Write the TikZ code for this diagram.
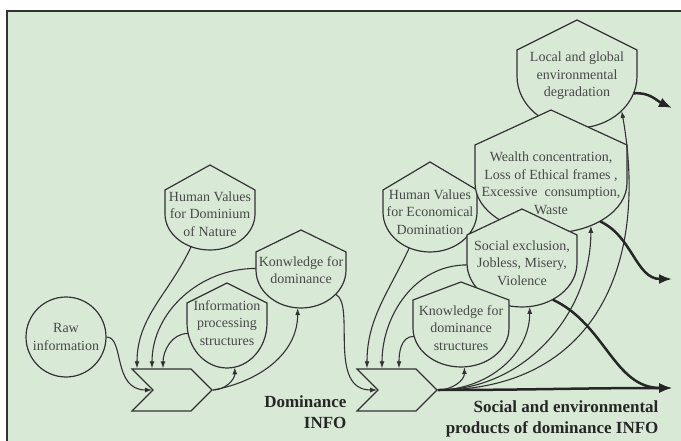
\documentclass[tikz,border=0pt]{standalone}
\usepackage{fontspec}
\setmainfont{Liberation Serif}
\usetikzlibrary{arrows.meta, shapes.geometric, shapes.symbols}
\definecolor{paneback}{RGB}{216,234,214}
\definecolor{inkline}{RGB}{50,50,50}
\definecolor{inktext}{RGB}{72,72,72}
\newcommand{\house}[8]{
	\filldraw[houseline] (#2-#4,#3+#6) -- (#2,#3+#7) -- (#2+#4,#3+#6) -- (#2+#4,#3) arc[start angle = 0, end angle = -180, x radius = #4, y radius = #5] -- cycle;
	\node[houseshape, minimum width = 2*#4, minimum height = 2*#5, label = {[housetext]center:{#8}}] (#1) at (#2,#3) {};
}

\begin{document}
\begin{tikzpicture}[x = 1pt, y = 1pt,
	houseline/.style = {draw = inkline, fill = paneback, line width = 1.2pt},
	houseshape/.style = {ellipse, inner sep = 0pt},
	housetext/.style = {align = center, text = inktext, font = \fontsize{14}{17.5}\selectfont},
	chevron/.style = {signal, signal to = east, signal from = west, draw = inkline, fill = paneback, line width = 1.2pt, minimum width = 80, minimum height = 42, inner sep = 0pt},
	flow/.style = {draw = inkline, line width = 1.1pt, -{Latex[length = 7pt, width = 5pt]}},
	bigflow/.style = {draw = black!85, line width = 2.5pt, -{Latex[length = 13pt, width = 10pt]}},
	caption/.style = {align = right, text = black!85, font = \bfseries\fontsize{17}{21}\selectfont}]
	\useasboundingbox (0,0) rectangle (681,-441);
	\fill[paneback] (7,-11) rectangle (681,-441);
	\draw[inkline, line width = 1.5pt] (7,-441) -- (7,-11) -- (681,-11);
	\house{local}{577}{-76}{60}{52}{26}{56}{Local and global\\environmental\\degradation}
	\house{hvecon}{430}{-212}{47}{40}{22}{50}{Human Values\\for Economical\\Domination}
	\house{wealth}{551}{-183}{76}{50}{38}{73}{Wealth concentration,\\Loss of Ethical frames ,\\Excessive~ consumption,\\Waste}
	\house{social}{522}{-263}{55}{44}{28}{54}{Social exclusion,\\Jobless, Misery,\\Violence}
	\house{kstruct}{461}{-328}{48}{39}{28}{46}{Knowledge for\\dominance\\structures}
	\house{hvdom}{210}{-214}{45}{36}{24}{49}{Human Values\\for Dominium\\of Nature}
	\house{konw}{301}{-270}{45}{38}{18}{40}{Konwledge for\\dominance}
	\house{info}{227}{-323}{40}{45}{20}{40}{Information\\processing\\structures}
	\node[circle, draw = inkline, fill = paneback, line width = 1.2pt, minimum size = 80, inner sep = 0pt, housetext] (raw) at (66,-337) {Raw\\information};
	\node[chevron] (chev1) at (172,-390) {};
	\node[chevron] (chev2) at (397,-390) {};
	\coordinate (out1) at (672,-388);
	\coordinate (out2) at (672,-279);
	\coordinate (out3) at (672,-108);
	\draw[flow] (raw.east) .. controls +(18,0) and +(-40,0) .. (chev1.west);
	\draw[flow] (hvdom.240) to[out = 245, in = 90] ([xshift = -35]chev1.north);
	\draw[flow] (konw.178) to[out = 180, in = 90] ([xshift = -20]chev1.north);
	\draw[flow] (info.195) to[out = 180, in = 90] ([xshift = -9]chev1.north);
	\draw[flow] (chev1.east) to[out = 0, in = -90] (info.-80);
	\draw[flow] (chev1.east) to[out = 10, in = -90] (konw.-95);
	\draw[flow] (konw.-35) .. controls +(20,-10) and +(-50,0) .. (chev2.west);
	\draw[flow] (hvecon.240) to[out = 245, in = 90] ([xshift = -30]chev2.north);
	\draw[flow] (social.182) to[out = 180, in = 90] ([xshift = -15]chev2.north);
	\draw[flow] (kstruct.190) to[out = 180, in = 90] ([xshift = 2]chev2.north);
	\draw[flow] (chev2.east) to[out = 0, in = -90] (kstruct.-85);
	\draw[flow] (chev2.east) to[out = 0, in = -90] (social.-80);
	\draw[flow] (chev2.east) to[out = 0, in = -90] (wealth.-47);
	\draw[flow] (chev2.east) to[out = 0, in = -80, looseness = 1.2] (local.-38);
	\draw[bigflow] (chev2.east) to[out = 0, in = 180] (out1);
	\draw[bigflow] (social.-50) to[out = -25, in = 180] (out1);
	\draw[bigflow] (wealth.-38) to[out = -25, in = 180] (out2);
	\draw[bigflow] (local.-17) to[out = 5, in = 155] (out3);
	\node[caption, anchor = east] (domlabel) at (350,-412) {Dominance\\INFO};
	\node[caption, anchor = east] (prodlabel) at (662,-419) {Social and environmental\\products of dominance INFO};
\end{tikzpicture}
\end{document}
